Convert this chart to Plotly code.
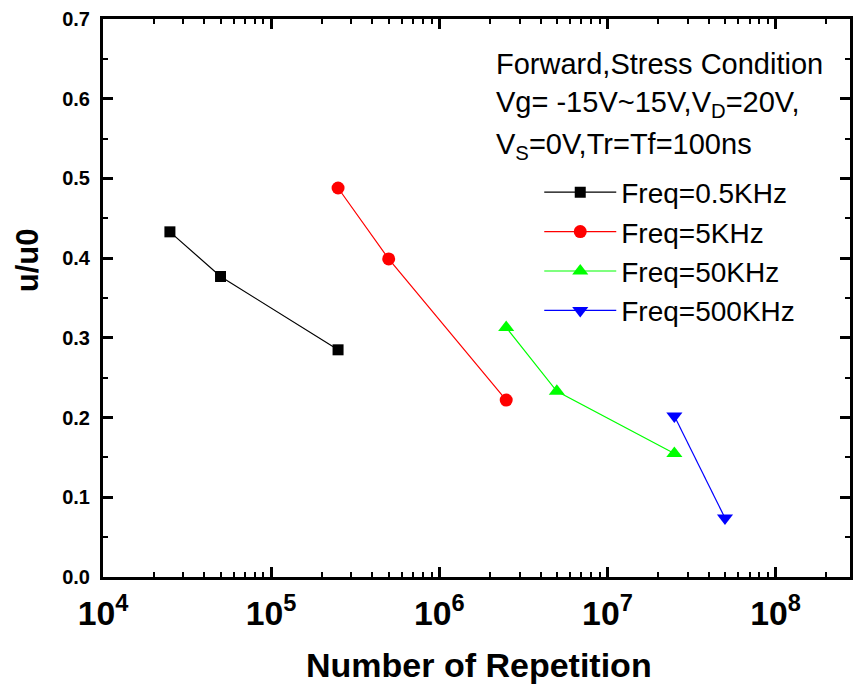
import plotly.graph_objects as go

# ---- data ----
series_names = ["Freq=0.5KHz", "Freq=5KHz", "Freq=50KHz", "Freq=500KHz"]
x_05k = [2.5e4, 5e4, 2.5e5]
y_05k = [0.433, 0.377, 0.285]
x_5k = [2.5e5, 5e5, 2.5e6]
y_5k = [0.488, 0.399, 0.222]
x_50k = [2.5e6, 5e6, 2.5e7]
y_50k = [0.313, 0.233, 0.155]
x_500k = [2.5e7, 5e7]
y_500k = [0.202, 0.074]
colors = ["#000000", "#ff0000", "#00ff00", "#0000ff"]
symbols = ["square", "circle", "triangle-up", "triangle-down"]
y_ticks = [0.0, 0.1, 0.2, 0.3, 0.4, 0.5, 0.6, 0.7]

FONT = "Liberation Sans, Arial, Helvetica, sans-serif"

fig = go.Figure()
xs = [x_05k, x_5k, x_50k, x_500k]
ys = [y_05k, y_5k, y_50k, y_500k]
sizes = [11, 13, 14, 14]
for name, x, y, c, s, sz in zip(series_names, xs, ys, colors, symbols, sizes):
    fig.add_trace(go.Scatter(
        x=x, y=y, name=name, mode="lines+markers",
        line=dict(color=c, width=1.2),
        marker=dict(color=c, symbol=s, size=sz, line=dict(width=0)),
    ))

axis_common = dict(
    showline=True, linecolor="black", linewidth=3, mirror="ticks",
    ticks="inside", ticklen=10, tickwidth=2.5, tickcolor="black",
    showgrid=False, zeroline=False,
)

fig.update_xaxes(
    type="log", range=[4, 8.4425], dtick=1, tick0=0,
    exponentformat="power", showexponent="all",
    tickfont=dict(family=FONT, size=27, color="black", weight="bold"),
    ticklabelstandoff=6,
    minor=dict(ticks="inside", ticklen=5, tickwidth=2, tickcolor="black", dtick="D1", showgrid=False),
    **axis_common,
)
fig.update_yaxes(
    range=[0, 0.7], tickvals=y_ticks, ticktext=[f"{v:.1f}" for v in y_ticks],
    tickfont=dict(family=FONT, size=20, color="black", weight="bold"),
    ticklabelstandoff=6,
    minor=dict(ticks="inside", ticklen=5, tickwidth=2, tickcolor="black", dtick=0.05, showgrid=False),
    **axis_common,
)

ann_font = dict(family=FONT, size=29, color="black")
fig.add_annotation(text="Forward,Stress Condition", xref="paper", yref="paper",
                   x=(496 - 103) / 750, y=(577 - 64) / 558, xanchor="left", yanchor="middle",
                   showarrow=False, font=ann_font)
fig.add_annotation(text="Vg= -15V~15V,V<sub>D</sub>=20V,", xref="paper", yref="paper",
                   x=(496 - 103) / 750, y=(577 - 104) / 558, xanchor="left", yanchor="middle",
                   showarrow=False, font=ann_font)
fig.add_annotation(text="V<sub>S</sub>=0V,Tr=Tf=100ns", xref="paper", yref="paper",
                   x=(496 - 103) / 750, y=(577 - 146) / 558, xanchor="left", yanchor="middle",
                   showarrow=False, font=ann_font)
fig.add_annotation(text="u/u0", xref="paper", yref="paper",
                   x=(27 - 103) / 750, y=(577 - 260) / 558, xanchor="center", yanchor="middle",
                   textangle=-90, showarrow=False,
                   font=dict(family=FONT, size=31, color="black", weight="bold"))
fig.add_annotation(text="Number of Repetition", xref="paper", yref="paper",
                   x=(481 - 103) / 750, y=(577 - 665) / 558, xanchor="center", yanchor="middle",
                   showarrow=False,
                   font=dict(family=FONT, size=34, color="black", weight="bold"))

fig.update_layout(
    width=853, height=688,
    margin=dict(l=103, r=0, t=19, b=111),
    paper_bgcolor="white", plot_bgcolor="white",
    font=dict(family=FONT, color="black"),
    legend=dict(
        x=(541 - 103) / 750, y=(577 - 167.5) / 558, xanchor="left", yanchor="top",
        bgcolor="rgba(0,0,0,0)", borderwidth=0,
        font=dict(family=FONT, size=28, color="black"),
        itemwidth=72, tracegroupgap=0,
    ),
)

fig.write_html("out.html")
